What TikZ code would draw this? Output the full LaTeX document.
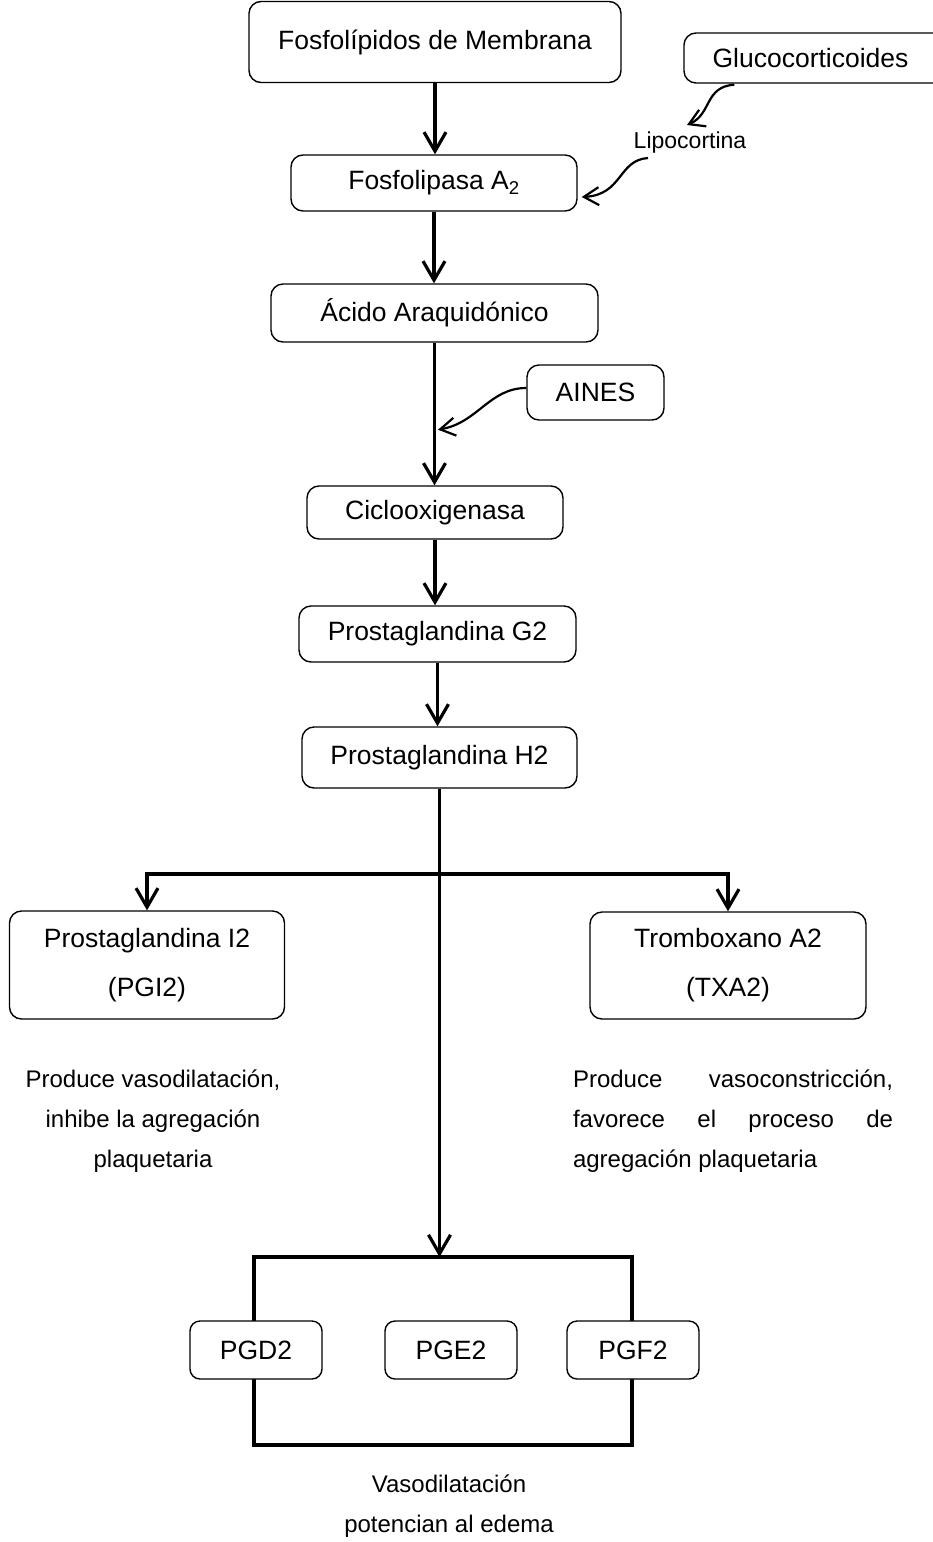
\documentclass[tikz,border=0pt]{standalone}
\usepackage{fontspec}
\setmainfont{Liberation Sans}
\usetikzlibrary{arrows.meta,calc}
\begin{document}
\begin{tikzpicture}[x=1pt,y=-1pt,
  box/.style={draw, line width=1.4pt, rounded corners=12pt, inner sep=0pt, fill=white,
              font=\fontsize{26.5}{49}\selectfont, align=center},
  smallbox/.style={box, rounded corners=10pt, minimum width=132pt, minimum height=58pt},
  flow/.style={line width=3.2pt, -{Straight Barb[length=19pt,width=22pt]}},
  inhib/.style={line width=2.2pt, -{Straight Barb[length=15pt,width=18pt]}},
  barline/.style={line width=3.2pt, {Straight Barb[length=19pt,width=22pt]}-{Straight Barb[length=19pt,width=22pt]}},
  txt/.style={inner sep=0pt, font=\fontsize{24}{40}\selectfont}
]
\useasboundingbox (0,0) rectangle (932,1542);

% main chain
\node[box, minimum width=372pt, minimum height=81pt] (fm) at (435,42) {Fosfolípidos de Membrana};
\node[box, minimum width=280pt, minimum height=50pt] (gc) at (824,58) {Glucocorticoides\hspace*{27pt}};
\node[txt, font=\fontsize{23}{28}\selectfont] (lc) at (690,143) {Lipocortina};
\node[box, minimum width=286pt, minimum height=56pt] (fa) at (434,183) {Fosfolipasa A\textsubscript{2}};
\node[box, minimum width=327pt, minimum height=58pt] (aa) at (434.5,313) {Ácido Araquidónico};
\node[box, minimum width=137pt, minimum height=55pt] (ai) at (595.5,392.5) {AINES};
\node[box, minimum width=256pt, minimum height=53pt] (co) at (435,512.5) {Ciclooxigenasa};
\node[box, minimum width=277pt, minimum height=56pt] (g2) at (437.5,634) {Prostaglandina G2};
\node[box, minimum width=275pt, minimum height=61pt] (h2) at (439.5,757.5) {Prostaglandina H2};
\node[box, minimum width=275pt, minimum height=108pt] (i2) at (147,965) {Prostaglandina I2\\(PGI2)};
\node[box, minimum width=276pt, minimum height=107pt] (tx) at (728,965.5) {Tromboxano A2\\(TXA2)};

\draw[flow] (fm.south) -- (fm.south |- fa.north);
\draw[flow] (fa.south) -- (fa.south |- aa.north);
\draw[flow] (aa.south) -- (aa.south |- co.north);
\draw[flow] (co.south) -- (co.south |- g2.north);
\draw[flow] (g2.south) -- (g2.south |- h2.north);

% inhibitions
\coordinate (gcs) at ($(gc.south west)+(51,1)$);
\coordinate (lct) at ($(lc.center)+(-3,-18)$);
\coordinate (lcs) at ($(lc.center)+(-42,15)$);
\coordinate (fae) at ($(fa.east)+(4,14)$);
\coordinate (ais) at ($(ai.west)+(0,-4.5)$);
\coordinate (aie) at ($(aa.south)+(3.5,87)$);
\draw[inhib] (gcs) .. controls +(-30,2) and +(25,-11) .. (lct);
\draw[inhib] (lcs) .. controls +(-30,2) and +(41,-2) .. (fae);
\draw[inhib] (ais) .. controls +(-37,0) and +(40,-7) .. (aie);

% branch
\coordinate (bary) at (0,874);
\coordinate (lbtop) at (254,1257);
\coordinate (lbbot) at (632,1445);
\draw[barline] (i2.north) -- (i2.north |- bary) -- (tx.north |- bary) -- (tx.north);
\draw[line width=4pt] (lbtop) rectangle (lbbot);
\draw[flow] (h2.south) -- (h2.south |- lbtop);

\node[smallbox] (pd) at (256,1350) {PGD2};
\node[smallbox] (pe) at (451,1350) {PGE2};
\node[smallbox] (pf) at (633,1350) {PGF2};

% texts
\node[txt, align=center] (lt) at (153,1121) {Produce vasodilatación,\\inhibe la agregación\\plaquetaria};
\node[txt, align=left] (rt) at (733,1121) {\makebox[320pt][s]{Produce vasoconstricción,}\\\makebox[320pt][s]{favorece el proceso de}\\agregación plaquetaria};
\node[txt, align=center] (vd) at (449,1506) {Vasodilatación\\potencian al edema};
\end{tikzpicture}
\end{document}
